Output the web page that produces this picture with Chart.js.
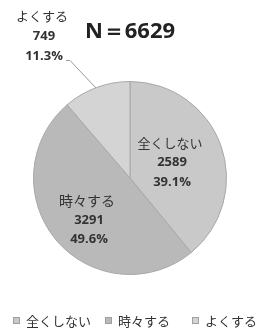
<!DOCTYPE html>
<html><head><meta charset="utf-8">
<script src="https://cdn.jsdelivr.net/npm/chart.js@4/dist/chart.umd.min.js"></script>
<style>html,body{margin:0;padding:0;background:#fff;}#wrap{width:257px;height:332px;position:relative;}</style>
</head><body><div id="wrap"><canvas id="c" width="257" height="332"></canvas></div>
<script>
const categories = ["全くしない", "時々する", "よくする"];
const counts = [2589, 3291, 749];
const percents = ["39.1%", "49.6%", "11.3%"];
const totalLabel = "N＝6629";
const sliceColors = ["#c9c9c9", "#b9b9b9", "#d4d4d4"];

const JP = '"Noto Sans CJK JP", "Noto Sans", sans-serif';
const NUM = '"Open Sans", "Noto Sans", sans-serif';

const labelPlugin = {
  id: 'labels',
  afterDraw(chart) {
    const ctx = chart.ctx;
    ctx.save();
    ctx.textAlign = 'center';
    ctx.textBaseline = 'middle';
    ctx.fillStyle = '#333';
    const blocks = [
      {x: 170, y: 143, gap: 19.5, fs: 13},
      {x: 87, y: 201, gap: 19, fs: 14},
      {x: 42, y: 16, gap: 20, fs: 13}
    ];
    blocks.forEach((b, i) => {
      ctx.font = b.fs + 'px ' + JP;
      ctx.fillText(categories[i], b.x, b.y);
      ctx.font = 'bold 13px ' + NUM;
      ctx.fillText(String(counts[i]), b.x + 2, b.y + b.gap);
      ctx.fillText(percents[i], b.x + 2, b.y + 2 * b.gap);
    });
    // leader line
    ctx.strokeStyle = '#999';
    ctx.lineWidth = 1;
    ctx.beginPath();
    ctx.moveTo(66, 60.5);
    ctx.lineTo(70, 60.5);
    ctx.lineTo(96, 88);
    ctx.stroke();
    // title
    ctx.font = 'bold 22px ' + NUM;
    ctx.fillStyle = '#222';
    ctx.fillText(totalLabel, 130, 32);
    // legend
    const lx = [13, 105, 192];
    ctx.textAlign = 'left';
    ctx.font = '13px ' + JP;
    categories.forEach((c, i) => {
      ctx.fillStyle = sliceColors[i];
      ctx.fillRect(lx[i], 317, 7, 7);
      ctx.strokeStyle = '#a0a0a0';
      ctx.strokeRect(lx[i] + 0.5, 317.5, 6, 6);
      ctx.fillStyle = '#333';
      ctx.fillText(c, lx[i] + 13, 321);
    });
    ctx.restore();
  }
};

new Chart(document.getElementById('c'), {
  type: 'pie',
  data: {
    labels: categories,
    datasets: [{
      data: counts,
      backgroundColor: sliceColors,
      borderColor: '#a8a8a8',
      borderWidth: 1
    }]
  },
  options: {
    responsive: false,
    animation: false,
    events: [],
    layout: {padding: {top: 81, bottom: 57, left: 33, right: 30}},
    plugins: {legend: {display: false}, tooltip: {enabled: false}}
  },
  plugins: [labelPlugin]
});
</script></body></html>
